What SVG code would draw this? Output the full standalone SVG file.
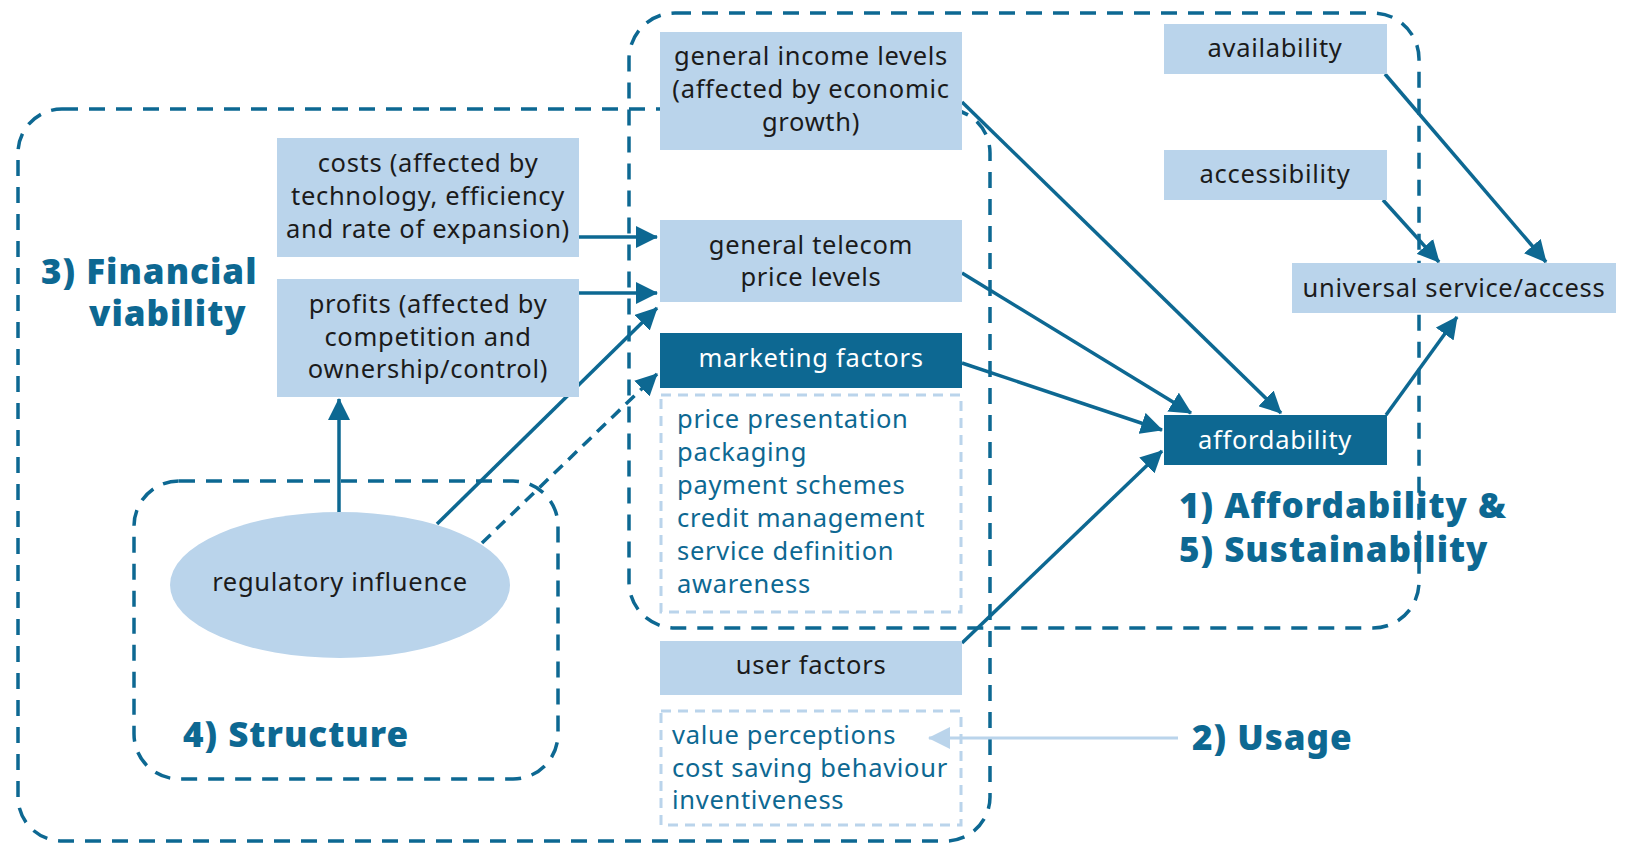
<svg xmlns="http://www.w3.org/2000/svg" width="1626" height="844" viewBox="0 0 1626 844">
<style>
.bg{fill:#ffffff}
.zone{fill:none;stroke:#0d6892;stroke-width:3.5;stroke-dasharray:16 11}
.light{fill:#bad4eb}
.dark{fill:#0d6892}
.list{fill:none;stroke:#bad4eb;stroke-width:3;stroke-dasharray:10 7}
.t{font-family:"Noto Sans","Open Sans","Liberation Sans",sans-serif;font-size:25.5px;letter-spacing:0.7px;fill:#1b1b1b;text-anchor:middle}
.tw{font-family:"Noto Sans","Open Sans","Liberation Sans",sans-serif;font-size:25.5px;letter-spacing:0.7px;fill:#ffffff;text-anchor:middle}
.tl{font-family:"Noto Sans","Open Sans","Liberation Sans",sans-serif;font-size:25.5px;letter-spacing:0.7px;fill:#0d6892}
.h{font-family:"Noto Sans","Open Sans","Liberation Sans",sans-serif;font-size:35px;letter-spacing:1px;font-weight:900;fill:#0d6892}
.c{fill:none;stroke:#0d6892;stroke-width:3.5}
.cd{fill:none;stroke:#0d6892;stroke-width:3.5;stroke-dasharray:12 8}
.cl{fill:none;stroke:#bad4eb;stroke-width:3}
</style>
<defs>
<marker id="ah" markerUnits="userSpaceOnUse" viewBox="0 0 22 22" markerWidth="22" markerHeight="22" refX="21" refY="11" orient="auto">
<path d="M0,0 L22,11 L0,22 z" fill="#0d6892"/>
</marker>
<marker id="ahl" markerUnits="userSpaceOnUse" viewBox="0 0 22 22" markerWidth="22" markerHeight="22" refX="21" refY="11" orient="auto">
<path d="M0,0 L22,11 L0,22 z" fill="#bad4eb"/>
</marker>
</defs>
<rect class="bg" x="0" y="0" width="1626" height="844"/>

<g id="zones">
<rect id="zone-financial" class="zone" x="18" y="109" width="972" height="732" rx="44"/>
<rect id="zone-affordability" class="zone" x="629" y="13" width="790" height="615" rx="46"/>
<rect id="zone-structure" class="zone" x="134" y="481" width="424" height="298" rx="45"/>
</g>

<g id="labels">
<text class="h"><tspan x="41" y="284">3) Financial</tspan><tspan x="89" y="326">viability</tspan></text>
<text class="h" x="183" y="747">4) Structure</text>
<text class="h"><tspan x="1179" y="518">1) Affordability &amp;</tspan><tspan x="1179" y="562">5) Sustainability</tspan></text>
<text class="h" x="1192" y="750">2) Usage</text>
</g>

<g id="connectors">
<line class="c" x1="579" y1="237" x2="657" y2="237" marker-end="url(#ah)"/>
<line class="c" x1="579" y1="293" x2="657" y2="293" marker-end="url(#ah)"/>
<line class="c" x1="437" y1="524" x2="657" y2="308" marker-end="url(#ah)"/>
<line class="cd" x1="482" y1="543" x2="657" y2="374" marker-end="url(#ah)"/>
<line class="c" x1="339" y1="513" x2="339" y2="399" marker-end="url(#ah)"/>
<line class="c" x1="962" y1="102" x2="1281" y2="413" marker-end="url(#ah)"/>
<line class="c" x1="962" y1="273" x2="1191" y2="413" marker-end="url(#ah)"/>
<line class="c" x1="962" y1="363" x2="1162" y2="430" marker-end="url(#ah)"/>
<line class="c" x1="962" y1="643" x2="1162" y2="451" marker-end="url(#ah)"/>
<line class="c" x1="1385" y1="74" x2="1546" y2="262" marker-end="url(#ah)"/>
<line class="c" x1="1383" y1="200" x2="1439" y2="262" marker-end="url(#ah)"/>
<line class="c" x1="1386" y1="415" x2="1457" y2="317" marker-end="url(#ah)"/>
<line class="cl" x1="1178" y1="738" x2="929" y2="738" marker-end="url(#ahl)"/>
</g>

<g id="node-costs">
<rect class="light" x="277" y="138" width="302" height="119"/>
<text class="t" x="428" y="172">costs (affected by</text>
<text class="t" x="428" y="205">technology, efficiency</text>
<text class="t" x="428" y="238">and rate of expansion)</text>
</g>

<g id="node-profits">
<rect class="light" x="277" y="279" width="302" height="118"/>
<text class="t" x="428" y="313">profits (affected by</text>
<text class="t" x="428" y="346">competition and</text>
<text class="t" x="428" y="378">ownership/control)</text>
</g>

<g id="node-income">
<rect class="light" x="660" y="32" width="302" height="118"/>
<text class="t" x="811" y="65">general income levels</text>
<text class="t" x="811" y="98">(affected by economic</text>
<text class="t" x="811" y="131">growth)</text>
</g>

<g id="node-telecom">
<rect class="light" x="660" y="220" width="302" height="82"/>
<text class="t" x="811" y="254">general telecom</text>
<text class="t" x="811" y="286">price levels</text>
</g>

<g id="node-marketing">
<rect class="dark" x="660" y="333" width="302" height="55"/>
<text class="tw" x="811" y="367">marketing factors</text>
</g>

<g id="node-marketing-list">
<rect class="list" x="661" y="395" width="300" height="217"/>
<text class="tl" x="677" y="428">price presentation</text>
<text class="tl" x="677" y="461">packaging</text>
<text class="tl" x="677" y="494">payment schemes</text>
<text class="tl" x="677" y="527">credit management</text>
<text class="tl" x="677" y="560">service definition</text>
<text class="tl" x="677" y="593">awareness</text>
</g>

<g id="node-user">
<rect class="light" x="660" y="641" width="302" height="54"/>
<text class="t" x="811" y="674">user factors</text>
</g>

<g id="node-user-list">
<rect class="list" x="661" y="711" width="300" height="114"/>
<text class="tl" x="672" y="744">value perceptions</text>
<text class="tl" x="672" y="777">cost saving behaviour</text>
<text class="tl" x="672" y="809">inventiveness</text>
</g>

<g id="node-availability">
<rect class="light" x="1164" y="24" width="223" height="50"/>
<text class="t" x="1275" y="57">availability</text>
</g>

<g id="node-accessibility">
<rect class="light" x="1164" y="150" width="223" height="50"/>
<text class="t" x="1275" y="183">accessibility</text>
</g>

<g id="node-universal">
<rect class="light" x="1292" y="263" width="324" height="50"/>
<text class="t" x="1454" y="297">universal service/access</text>
</g>

<g id="node-affordability">
<rect class="dark" x="1164" y="415" width="223" height="50"/>
<text class="tw" x="1275" y="449">affordability</text>
</g>

<g id="node-regulatory">
<ellipse class="light" cx="340" cy="585" rx="170" ry="73"/>
<text class="t" x="340" y="591">regulatory influence</text>
</g>
</svg>
